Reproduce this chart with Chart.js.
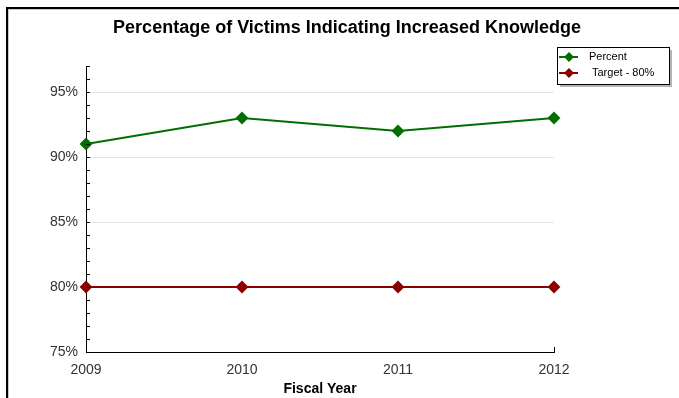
<!DOCTYPE html>
<html>
<head>
<meta charset="utf-8">
<script src="https://cdn.jsdelivr.net/npm/chart.js@4/dist/chart.umd.min.js"></script>
<style>
  html, body { margin: 0; padding: 0; background: #fff; }
  #wrap { width: 679px; height: 398px; position: relative; }
</style>
</head>
<body>
<div id="wrap"><canvas id="chart"></canvas></div>
<script>
const years = ['2009', '2010', '2011', '2012'];
const percentValues = [91, 93, 92, 93];
const targetValues = [80, 80, 80, 80];
const seriesNames = ['Percent', 'Target - 80%'];
const seriesColors = ['#006f00', '#8c0000'];
const chartTitle = 'Percentage of Victims Indicating Increased Knowledge';
const yMin = 75, yMax = 97;

const FONT = '"Liberation Sans", Arial, sans-serif';

// frame round the picture, title, inner minor ticks and the boxed legend
const extras = {
    id: 'extras',
    beforeDraw(chart) {
        const c = chart.ctx;
        c.save();
        c.fillStyle = '#fff';
        c.fillRect(0, 0, chart.width, chart.height);
        c.fillStyle = '#000';
        c.fillRect(6, 7, 2, chart.height - 7);
        c.fillRect(6, 7, chart.width - 6, 2);
        c.fillStyle = '#c8c8c8';
        c.fillRect(8, 9, 1, chart.height - 9);
        c.fillRect(8, 9, chart.width - 8, 1);
        c.fillStyle = '#000';
        c.font = 'bold 18px ' + FONT;
        c.textAlign = 'center';
        c.textBaseline = 'middle';
        c.fillText(chartTitle, 347, 28);
        c.restore();
    },
    afterDatasetsDraw(chart) {
        const c = chart.ctx, y = chart.scales.y, x = chart.scales.x;
        c.save();
        c.strokeStyle = '#000';
        c.lineWidth = 1;
        c.beginPath();
        for (let v = yMin; v <= yMax; v++) {
            const py = Math.round(y.getPixelForValue(v)) + 0.5;
            c.moveTo(x.left, py);
            c.lineTo(x.left + 4, py);
        }
        const ex = Math.round(x.getPixelForValue(years.length - 1)) + 0.5;
        c.moveTo(ex, y.bottom);
        c.lineTo(ex, y.bottom - 5);
        c.stroke();

        // legend
        const lx = 557, ly = 47, lw = 112, lh = 37;
        c.fillStyle = '#b4b4b4';
        c.fillRect(lx + 3, ly + 3, lw, lh);
        c.fillStyle = '#fff';
        c.fillRect(lx, ly, lw, lh);
        c.strokeStyle = '#000';
        c.strokeRect(lx + 0.5, ly + 0.5, lw, lh);
        c.font = '11px ' + FONT;
        c.textBaseline = 'middle';
        seriesNames.forEach((name, i) => {
            const cy = ly + 10 + i * 16;
            c.strokeStyle = seriesColors[i];
            c.fillStyle = seriesColors[i];
            c.lineWidth = 2;
            c.beginPath();
            c.moveTo(lx + 2, cy);
            c.lineTo(lx + 21, cy);
            c.stroke();
            c.beginPath();
            c.moveTo(lx + 12, cy - 5);
            c.lineTo(lx + 17, cy);
            c.lineTo(lx + 12, cy + 5);
            c.lineTo(lx + 7, cy);
            c.closePath();
            c.fill();
            c.fillStyle = '#000';
            c.fillText(name, lx + 32 + i * 3, cy);
        });
        c.restore();
    }
};

function makeDataset(label, data, color) {
    return {
        label, data,
        borderColor: color,
        backgroundColor: color,
        borderWidth: 2,
        pointStyle: 'rectRot',
        pointRadius: 5,
        pointHoverRadius: 5,
        tension: 0
    };
}

new Chart(document.getElementById('chart'), {
    type: 'line',
    data: {
        labels: years,
        datasets: [
            makeDataset(seriesNames[0], percentValues, seriesColors[0]),
            makeDataset(seriesNames[1], targetValues, seriesColors[1])
        ]
    },
    options: {
        responsive: true,
        maintainAspectRatio: false,
        animation: false,
        events: [],
        layout: { padding: { left: 0, right: 125, top: 66, bottom: 0 } },
        plugins: {
            legend: { display: false },
            tooltip: { enabled: false },
            title: { display: false }
        },
        scales: {
            x: {
                offset: false,
                grid: { display: false },
                border: { display: true, color: '#000', width: 1 },
                ticks: { color: '#333', font: { family: FONT, size: 14 }, padding: 2, maxRotation: 0 },
                title: {
                    display: true, text: 'Fiscal Year', color: '#000',
                    font: { family: FONT, size: 14, weight: 'bold' }, padding: { top: 3, bottom: 0 }
                },
                afterFit(scale) { scale.height = 46; }
            },
            y: {
                min: yMin, max: yMax,
                border: { display: true, color: '#000', width: 1 },
                grid: {
                    drawTicks: false,
                    color: ctx => (ctx.tick && ctx.tick.value % 5 === 0 && ctx.tick.value > yMin) ? '#e2e2e2' : 'rgba(0,0,0,0)'
                },
                ticks: {
                    stepSize: 1,
                    autoSkip: false,
                    padding: 8,
                    color: '#333',
                    font: { family: FONT, size: 14 },
                    callback: v => v % 5 === 0 ? v + '%' : ''
                },
                afterFit(scale) { scale.width = 86; }
            }
        }
    },
    plugins: [extras]
});
</script>
</body>
</html>
